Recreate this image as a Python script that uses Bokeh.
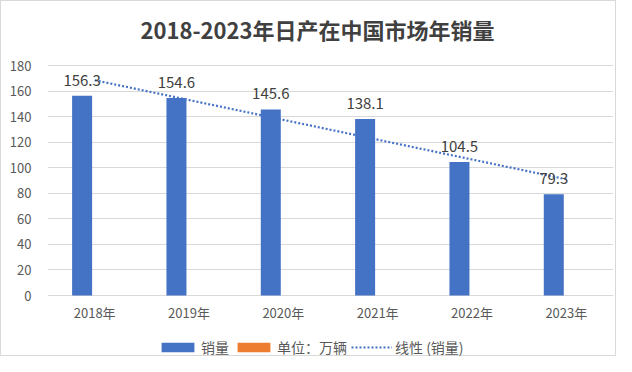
import numpy as np
from bokeh.plotting import figure
from bokeh.models import (ColumnDataSource, FactorRange, FixedTicker, Range1d,
                          Legend, LegendItem, Label)
from bokeh.transform import dodge
from bokeh.core.properties import value
from bokeh.embed import file_html
from bokeh.resources import INLINE

title_text = "2018-2023年日产在中国市场年销量"
categories = ["2018年", "2019年", "2020年", "2021年", "2022年", "2023年"]
sales = [156.3, 154.6, 145.6, 138.1, 104.5, 79.3]
sales_labels = ["156.3", "154.6", "145.6", "138.1", "104.5", "79.3"]
unit_series = [float("nan")] * 6   # "单位：万辆" legend-only series (no bars)
y_ticks = [0, 20, 40, 60, 80, 100, 120, 140, 160, 180]

# linear trendline (Excel "线性") fitted to the sales series
xs = np.arange(1, len(sales) + 1)
slope, intercept = np.polyfit(xs, sales, 1)
trend = list(slope * xs + intercept)

FONT = "Noto Sans CJK SC"
BLUE = "#4472C4"
ORANGE = "#ED7D31"
GRID = "#D9D9D9"
TXT = "#595959"

src = ColumnDataSource(dict(x=categories, y=sales, lab=sales_labels, u=unit_series))

# frame covers the whole height; value axis 0..180 occupies the middle band
p = figure(x_range=FactorRange(*categories), y_range=Range1d(-48.5, 230.1),
           width=616, height=356, output_backend="svg", toolbar_location=None,
           min_border_left=46, min_border_right=4, min_border_top=0,
           min_border_bottom=0)
p.styles = {"border": "1px solid #D9D9D9", "box-sizing": "border-box"}
p.outline_line_color = None

r_bar = p.vbar(x=dodge("x", -0.133, range=p.x_range), top="y", width=0.212,
               source=src, fill_color=BLUE, line_color=None)
r_unit = p.vbar(x=dodge("x", 0.08, range=p.x_range), top="u", width=0.212,
                source=src, fill_color=ORANGE, line_color=None)
r_trend = p.line(x=categories, y=trend, line_color=BLUE, line_width=2.2,
                 line_dash="2 2")
p.text(x=dodge("x", -0.133, range=p.x_range), y="y", text="lab", source=src,
       text_align="center", text_baseline="bottom", y_offset=-10,
       text_font=value(FONT), text_font_size="15px", text_color="#404040")
# category axis labels
p.text(x="x", y=0, text="x", source=src, text_align="center",
       text_baseline="middle", y_offset=17, text_font=value(FONT),
       text_font_size="13px", text_color=TXT)

p.add_layout(Label(x=270, y=329, x_units="screen", y_units="screen",
                   text=title_text, text_align="center", text_baseline="middle",
                   text_font=FONT, text_font_size="22px", text_font_style="bold",
                   text_color="#404040"))

p.yaxis.ticker = FixedTicker(ticks=y_ticks)
p.yaxis.axis_line_color = None
p.yaxis.major_tick_line_color = None
p.yaxis.minor_tick_line_color = None
p.yaxis.major_label_standoff = 10
p.yaxis.major_label_text_font = FONT
p.yaxis.major_label_text_font_size = "13px"
p.yaxis.major_label_text_color = TXT

p.xaxis.visible = False
p.xgrid.grid_line_color = None
p.ygrid.ticker = FixedTicker(ticks=y_ticks)
p.ygrid.grid_line_color = GRID
p.ygrid.grid_line_width = 1

lg = Legend(items=[LegendItem(label="销量", renderers=[r_bar]),
                   LegendItem(label="单位：万辆", renderers=[r_unit]),
                   LegendItem(label="线性 (销量)", renderers=[r_trend])])
lg.orientation = "horizontal"
lg.location = (110, 0)
lg.label_text_font = FONT
lg.label_text_font_size = "14px"
lg.label_text_color = TXT
lg.glyph_width = 41
lg.glyph_height = 12
lg.label_standoff = 3
lg.spacing = 4
lg.padding = 0
lg.margin = 0
lg.border_line_color = None
lg.background_fill_alpha = 0
p.add_layout(lg)

open("out.html", "w").write(file_html(p, INLINE))
